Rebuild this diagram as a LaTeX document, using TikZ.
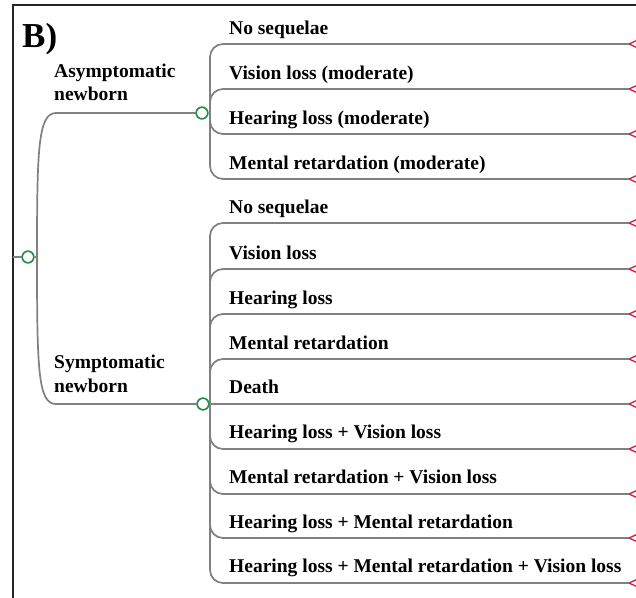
\documentclass[tikz,border=0pt]{standalone}
\usepackage{fontspec}
\setmainfont{Liberation Serif}
\begin{document}
\begin{tikzpicture}[x=1pt,y=-1pt,
  edge/.style={draw={rgb,255:red,128;green,128;blue,128},line width=1.7pt,rounded corners=13pt},
  chance/.style={circle,draw={rgb,255:red,40;green,140;blue,80},fill=white,line width=1.5pt,minimum size=11.5pt,inner sep=0pt},
  term/.style={draw={rgb,255:red,215;green,30;blue,60},fill=white,line width=1.3pt,line join=miter},
  lbl/.style={anchor=base west,inner sep=0pt,font=\fontsize{19.5}{22}\selectfont\bfseries},
  frame/.style={draw=black!85,line width=2pt}]
\useasboundingbox (0,0) rectangle (636,597);
\fill[white] (0,0) rectangle (636,597);
\draw[frame] (13,600) -- (13,5) -- (640,5);
\node[anchor=base west,inner sep=0pt,font=\fontsize{35}{38}\selectfont\bfseries] (title) at (22,47) {B)};

% decision structure
\coordinate (fl) at (13,257);
\node[chance] (root) at (28,257) {};
\coordinate (hR) at (37,257);
\node[chance] (cA) at (202,113) {};
\node[chance] (cS) at (203,404) {};
\coordinate (hA) at (210,113);
\coordinate (hS) at (210,404);

\node[lbl] (lA) at (54,77) {Asymptomatic};
\node[lbl] (lA2) at (54,100) {newborn};
\node[lbl] (lS) at (54,368) {Symptomatic};
\node[lbl] (lS2) at (54,392) {newborn};

\draw[edge] (fl) -- (root);
\draw[edge] (root) -- (hR);
\draw[edge,rounded corners=0pt] (hR) .. controls (37,150) and (38,113) .. (56,113) -- (cA);
\draw[edge,rounded corners=0pt] (hR) .. controls (37,370) and (38,404) .. (56,404) -- (cS);
\draw[edge] (cA) -- (hA);
\draw[edge] (cS) -- (hS);

% terminals
\foreach \n/\y in {a1/44,a2/89,a3/134,a4/179,s1/223,s2/269,s3/314,s4/359,s5/404,s6/449,s7/494,s8/538,s9/583}{
  \coordinate (t\n) at (629,\y);
  \draw[term] (t\n) -- ++(12,-5.5) -- ++(0,11) -- cycle;
}

% outcome branches
\foreach \n in {a1,a2,a3,a4}{ \draw[edge] (hA) |- (t\n); }
\foreach \n in {s1,s2,s3,s4,s6,s7,s8,s9}{ \draw[edge] (hS) |- (t\n); }
\draw[edge] (cS) -- (ts5);

\node[lbl] (oa1) at (229,34) {No sequelae};
\node[lbl] (oa2) at (229,79) {Vision loss (moderate)};
\node[lbl] (oa3) at (229,124) {Hearing loss (moderate)};
\node[lbl] (oa4) at (229,169) {Mental retardation (moderate)};

\node[lbl] (os1) at (229,213) {No sequelae};
\node[lbl] (os2) at (229,259) {Vision loss};
\node[lbl] (os3) at (229,304) {Hearing loss};
\node[lbl] (os4) at (229,349) {Mental retardation};
\node[lbl] (os5) at (229,393) {Death};
\node[lbl] (os6) at (229,438) {Hearing loss + Vision loss};
\node[lbl] (os7) at (229,483) {Mental retardation + Vision loss};
\node[lbl] (os8) at (229,528) {Hearing loss + Mental retardation};
\node[lbl] (os9) at (229,572) {Hearing loss + Mental retardation + Vision loss};

% chance nodes on top
\node[chance] at (root) {};
\node[chance] at (cA) {};
\node[chance] at (cS) {};
\end{tikzpicture}
\end{document}
